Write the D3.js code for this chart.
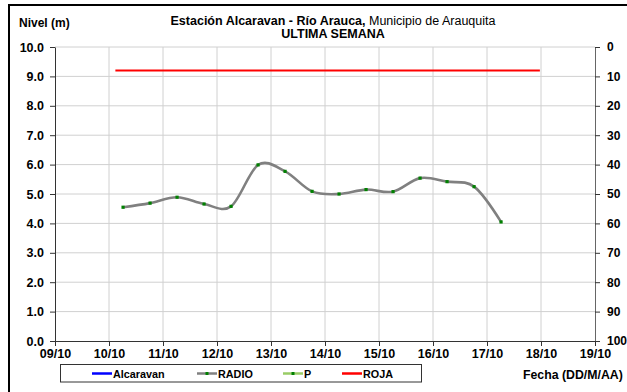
<!DOCTYPE html>
<html>
<head>
<meta charset="utf-8">
<script src="https://cdn.jsdelivr.net/npm/d3@7"></script>
<style>
  html, body { margin: 0; padding: 0; background: #fff; }
  svg { display: block; font-family: "Liberation Sans", Arial, sans-serif; }
</style>
</head>
<body>
<svg id="chart" width="627" height="392"></svg>
<script>
// Nivel del río (m), lecturas cada 12 horas
const radioTimes = [
  "2010-10-10T06:15", "2010-10-10T18:15", "2010-10-11T06:15", "2010-10-11T18:15",
  "2010-10-12T06:15", "2010-10-12T18:15", "2010-10-13T06:15", "2010-10-13T18:15",
  "2010-10-14T06:15", "2010-10-14T18:15", "2010-10-15T06:15", "2010-10-15T18:15",
  "2010-10-16T06:15", "2010-10-16T18:15", "2010-10-17T06:15"
];
const radioValues = [4.55, 4.69, 4.89, 4.66, 4.58, 5.99, 5.77, 5.09, 5.00, 5.15, 5.08, 5.54, 5.42, 5.25, 4.05];

// Umbral de alerta roja
const rojaTimes = ["2010-10-10T02:50", "2010-10-17T23:30"];
const rojaValues = [9.2, 9.2];

// Ejes
const dayTicks = ["2010-10-09", "2010-10-10", "2010-10-11", "2010-10-12", "2010-10-13",
  "2010-10-14", "2010-10-15", "2010-10-16", "2010-10-17", "2010-10-18", "2010-10-19"];
const levelTicks = [0, 1, 2, 3, 4, 5, 6, 7, 8, 9, 10];
const rainTicks = [0, 10, 20, 30, 40, 50, 60, 70, 80, 90, 100];

const legendItems = [
  { name: "Alcaravan", color: "#0000ff", marker: false },
  { name: "RADIO", color: "#808080", marker: true },
  { name: "P", color: "#99cc66", marker: true },
  { name: "ROJA", color: "#ff0000", marker: false }
];

const parse = d3.isoParse;
const svg = d3.select("#chart");
const L = 55, R = 595, T = 47, B = 341;

const x = d3.scaleTime().domain([parse(dayTicks[0]), parse(dayTicks[dayTicks.length - 1])]).range([L, R]);
const y = d3.scaleLinear().domain([0, 10]).range([B, T]);
const y2 = d3.scaleLinear().domain([0, 100]).range([T, B]);

// Marco exterior
svg.append("rect").attr("x", 9).attr("y", 5).attr("width", 640).attr("height", 400)
  .attr("fill", "none").attr("stroke", "#000").attr("stroke-width", 2);

// Cuadrícula
const grid = svg.append("g");
grid.selectAll("line.h").data(levelTicks.slice(1)).join("line")
  .attr("x1", L).attr("x2", R).attr("y1", d => y(d)).attr("y2", d => y(d))
  .attr("stroke", "#d0d0d0").attr("stroke-width", 1);
grid.selectAll("line.v").data(dayTicks.slice(1, -1)).join("line")
  .attr("x1", d => x(parse(d))).attr("x2", d => x(parse(d))).attr("y1", T).attr("y2", B)
  .attr("stroke", "#d0d0d0").attr("stroke-width", 1);

// Ejes
const axisStyle = g => {
  g.selectAll(".domain").attr("stroke", "#333");
  g.selectAll(".tick line").attr("stroke", "#333");
  g.selectAll("text").attr("font-size", 12.5).attr("font-weight", "bold").attr("fill", "#000")
    .attr("font-family", "'Liberation Sans', Arial, sans-serif");
};
svg.append("g").attr("transform", `translate(${L},0)`)
  .call(d3.axisLeft(y).tickValues(levelTicks).tickFormat(d3.format(".1f")).tickSize(5).tickSizeOuter(0).tickPadding(6))
  .call(axisStyle);
svg.append("g").attr("transform", `translate(${R},0)`)
  .call(d3.axisRight(y2).tickValues(rainTicks).tickFormat(d3.format("d")).tickSize(5).tickSizeOuter(0).tickPadding(7))
  .call(axisStyle)
  .call(g => g.select(".domain").attr("stroke", "#666"))
  .call(g => g.selectAll("text").attr("font-size", 12));
svg.append("g").attr("transform", `translate(0,${B})`)
  .call(d3.axisBottom(x).tickValues(dayTicks.map(parse)).tickFormat(d3.timeFormat("%d/%m")).tickSize(5).tickSizeOuter(0).tickPadding(3))
  .call(axisStyle);

// Serie ROJA
const line = d3.line().x(d => x(d[0])).y(d => y(d[1]));
svg.append("path")
  .datum(rojaTimes.map((t, i) => [parse(t), rojaValues[i]]))
  .attr("d", line).attr("fill", "none").attr("stroke", "#ff0000").attr("stroke-width", 2.2);

// Serie RADIO (suavizada)
const radio = radioTimes.map((t, i) => [parse(t), radioValues[i]]);
svg.append("path")
  .datum(radio)
  .attr("d", line.curve(d3.curveCatmullRom.alpha(0)))
  .attr("fill", "none").attr("stroke", "#808080").attr("stroke-width", 2.6);
svg.selectAll("rect.pt").data(radio).join("rect")
  .attr("x", d => x(d[0]) - 1.6).attr("y", d => y(d[1]) - 1.6)
  .attr("width", 3.2).attr("height", 3.2).attr("fill", "#008000");

// Títulos
const title = svg.append("text").attr("x", 333).attr("y", 25).attr("text-anchor", "middle")
  .attr("font-size", 12.5);
title.append("tspan").attr("font-weight", "bold").text("Estación Alcaravan - Río Arauca,");
title.append("tspan").text(" Municipio de Arauquita");
svg.append("text").attr("x", 333).attr("y", 38).attr("text-anchor", "middle")
  .attr("font-size", 12.5).attr("font-weight", "bold").text("ULTIMA SEMANA");
svg.append("text").attr("x", 19).attr("y", 27)
  .attr("font-size", 12).attr("font-weight", "bold").text("Nivel (m)");
svg.append("text").attr("x", 523).attr("y", 379)
  .attr("font-size", 12.3).attr("font-weight", "bold").text("Fecha (DD/M/AA)");

// Leyenda
const lg = svg.append("g");
lg.append("rect").attr("x", 60.5).attr("y", 364.5).attr("width", 361).attr("height", 17.5)
  .attr("fill", "#fff").attr("stroke", "#333").attr("stroke-width", 1);
const legendX = [92, 197, 283, 342];
legendItems.forEach((it, i) => {
  const g = lg.append("g").attr("transform", `translate(${legendX[i]},373.5)`);
  g.append("line").attr("x1", 0).attr("x2", 20).attr("stroke", it.color).attr("stroke-width", 2.5);
  if (it.marker) g.append("rect").attr("x", 8.5).attr("y", -1.5).attr("width", 3).attr("height", 3).attr("fill", "#008000");
  g.append("text").attr("x", 21).attr("y", 4).attr("font-size", 10.8).attr("font-weight", "bold").text(it.name);
});
</script>
</body>
</html>
